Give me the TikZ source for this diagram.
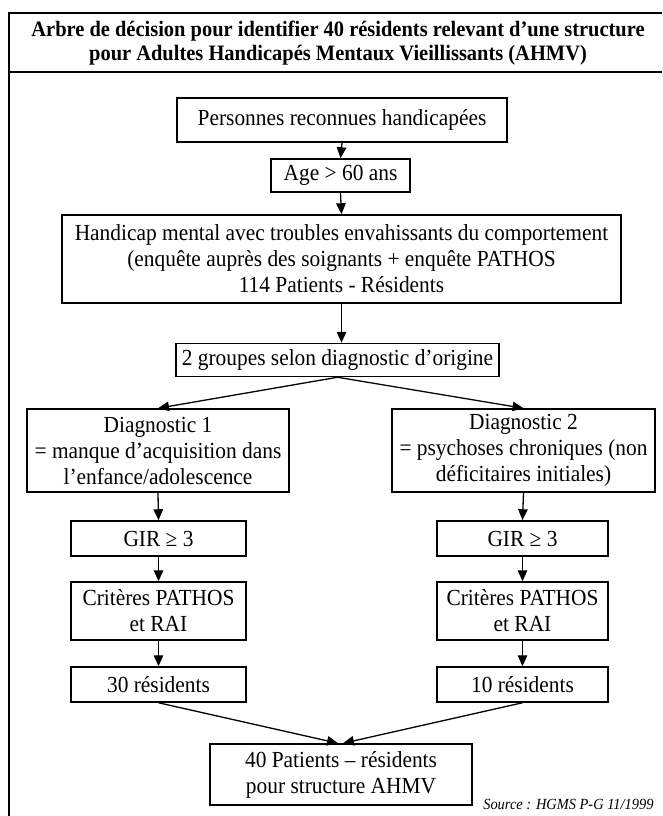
\documentclass[tikz,border=0pt]{standalone}
\usepackage{fontspec}
\setmainfont{Liberation Serif}
\newfontfamily\boxfont[FakeStretch=0.93]{Liberation Serif}
\usetikzlibrary{arrows.meta, calc}
\definecolor{linecol}{RGB}{0, 0, 0}

\begin{document}
\begin{tikzpicture}[
        x=1pt, y=-1pt,
        >={Triangle[length=11pt, width=9.5pt]},
        box/.style={rectangle, draw=linecol, line width=1.5pt, fill=white, inner sep=0pt, align=center, font=\boxfont\fontsize{23}{26}\selectfont},
        arrow/.style={->, line width=1.3pt, color=linecol},
        frame/.style={draw=linecol, line width=2.8pt},
        titletext/.style={align=center, font=\boxfont\fontsize{22}{23.5}\selectfont\bfseries},
        sourcetext/.style={font=\boxfont\fontsize{15.5}{17}\selectfont\itshape}
    ]
    \useasboundingbox (0, 0) rectangle (662, 816);

    %% --- Frame and title ---
    \draw[frame] (662, 13) -- (9, 13) -- (9, 816);
    \draw[frame] (9, 72) -- (662, 72);
    \node[titletext] (title) at (338, 43) {Arbre de décision pour identifier 40 résidents relevant d’une structure\\pour Adultes Handicapés Mentaux Vieillissants (AHMV)};

    %% --- Main column ---
    \node[box, minimum width=330pt, minimum height=44pt] (persons) at (342, 120)   {Personnes reconnues handicapées};
    \node[box, minimum width=139pt, minimum height=33pt] (age)     at (340.5, 175.5) {Age > 60 ans};
    \node[box, minimum width=559pt, minimum height=88pt] (cohort)  at (341.5, 259) {Handicap mental avec troubles envahissants du comportement\\(enquête auprès des soignants + enquête PATHOS\\114 Patients - Résidents};
    \node[box, minimum width=323pt, minimum height=33pt] (groups)  at (337.5, 360) {2 groupes selon diagnostic d’origine};

    %% --- Branch 1 (left) ---
    \node[box, minimum width=262pt, minimum height=83pt] (diagA) at (158, 450.5)   {Diagnostic 1\\= manque d’acquisition dans\\l’enfance/adolescence};
    \node[box, minimum width=175pt, minimum height=35pt] (girA)  at (158.5, 538.5) {GIR ≥ 3};
    \node[box, minimum width=175pt, minimum height=58pt] (critA) at (158.5, 611)   {Critères PATHOS\\et RAI};
    \node[box, minimum width=175pt, minimum height=35pt] (resA)  at (158.5, 684.5) {30 résidents};

    %% --- Branch 2 (right) ---
    \node[box, minimum width=263pt, minimum height=83pt] (diagB) at (523.5, 450.5) {Diagnostic 2\\= psychoses chroniques (non\\déficitaires initiales)};
    \node[box, minimum width=171pt, minimum height=35pt] (girB)  at (522.5, 538.5) {GIR ≥ 3};
    \node[box, minimum width=171pt, minimum height=58pt] (critB) at (522.5, 611)   {Critères PATHOS\\et RAI};
    \node[box, minimum width=171pt, minimum height=35pt] (resB)  at (522.5, 684.5) {10 résidents};

    %% --- Result ---
    \node[box, minimum width=262pt, minimum height=61pt] (final) at (341, 774.5) {40 Patients – résidents\\pour structure AHMV};
    \node[sourcetext, anchor=base east] (source) at (657, 809) {Source : HGMS P-G 11/1999};

    %% --- Arrows ---
    \draw[arrow] (persons.south) -- (age.north);
    \draw[arrow] (age.south) -- (cohort.north);
    \draw[arrow] (cohort.south) -- (cohort.south |- groups.north);
    \draw[arrow] (groups.south) -- (diagA.north);
    \draw[arrow] (groups.south) -- (diagB.north);
    \draw[arrow] (diagA.south) -- (girA.north);
    \draw[arrow] (girA.south)  -- (critA.north);
    \draw[arrow] (critA.south) -- (resA.north);
    \draw[arrow] (diagB.south) -- (girB.north);
    \draw[arrow] (girB.south)  -- (critB.north);
    \draw[arrow] (critB.south) -- (resB.north);
    \draw[arrow] (resA.south) -- ($(final.north)+(-3, 0)$);
    \draw[arrow] (resB.south) -- ($(final.north)+(2, 0)$);

\end{tikzpicture}
\end{document}
